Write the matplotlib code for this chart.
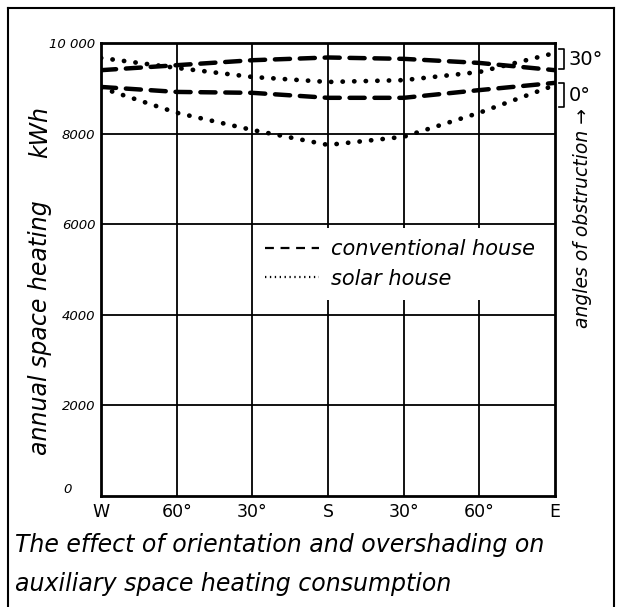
import matplotlib
matplotlib.use("Agg")
import matplotlib.pyplot as plt
from matplotlib.lines import Line2D

# orientation of the main glazing, degrees from south (west negative)
orientation = [-90, -60, -30, 0, 30, 60, 90]
orientation_labels = ["W", "60°", "30°", "S", "30°", "60°", "E"]

# annual auxiliary space heating, kWh
conventional_30 = [9400, 9510, 9620, 9680, 9650, 9560, 9400]
solar_30 = [9670, 9450, 9250, 9140, 9180, 9360, 9780]
conventional_0 = [9030, 8920, 8900, 8790, 8790, 8960, 9120]
solar_0 = [9010, 8460, 8080, 7750, 7930, 8460, 9070]

y_ticks = [0, 2000, 4000, 6000, 8000, 10000]
y_tick_labels = ["", "2000", "4000", "6000", "8000", "10 000"]

FONT = "DejaVu Sans"
W, H = 617, 607
fig = plt.figure(figsize=(W / 100, H / 100), dpi=100)

ax = fig.add_axes([101 / W, 1 - 496 / H, (555 - 101) / W, (496 - 43) / H])
ax.set_xlim(-90, 90)
ax.set_ylim(0, 10000)

# grid
for x in orientation[1:-1]:
    ax.axvline(x, color="black", lw=1.3, zorder=1)
for y in y_ticks[1:-1]:
    ax.axhline(y, color="black", lw=1.3, zorder=1)
for s in ax.spines.values():
    s.set_linewidth(2.0)

dash_style = dict(color="black", lw=3.2, linestyle=(0, (3.4, 2.2)),
                  dash_capstyle="round", zorder=3)
dot_style = dict(color="black", lw=3.4, linestyle=(0, (0.05, 2.4)),
                 dash_capstyle="round", zorder=3)

ax.plot(orientation, conventional_30, **dash_style)
ax.plot(orientation, conventional_0, **dash_style)
ax.plot(orientation, solar_30, **dot_style)
ax.plot(orientation, solar_0, **dot_style)

ax.set_xticks(orientation)
ax.set_xticklabels(orientation_labels, fontsize=12.5, family=FONT)
ax.set_yticks(y_ticks)
ax.set_yticklabels(y_tick_labels, fontsize=9.5, family=FONT, style="italic")
ax.tick_params(length=0, pad=4)
ax.tick_params(axis="x", pad=5)

# zero label sits up and to the left of the corner
ax.text(-0.065, 0.015, "0", transform=ax.transAxes, fontsize=9.5,
        family=FONT, style="italic", ha="right", va="center")

# legend
handles = [
    Line2D([], [], color="black", lw=1.6, linestyle=(0, (4, 3))),
    Line2D([], [], color="black", lw=1.6, linestyle=(0, (0.6, 1.6))),
]
leg = ax.legend(handles, ["conventional house", "solar house"],
                loc="upper left", bbox_to_anchor=(0.335, 0.592),
                frameon=True, framealpha=1, edgecolor="none",
                fancybox=False, borderpad=0.55, handlelength=2.6,
                handletextpad=0.6, labelspacing=0.45, borderaxespad=0,
                prop=dict(family=FONT, style="italic", size=15))
leg.get_frame().set_facecolor("white")
leg.set_zorder(5)

# obstruction-angle brackets on the right
def bracket(y0, y1, label):
    ax.plot([91.5, 93.5, 93.5, 91.5], [y0, y0, y1, y1], color="black",
            lw=1.2, clip_on=False)
    ax.text(95.5, (y0 + y1) / 2, label, fontsize=14, family=FONT,
            va="center", ha="left", clip_on=False)

bracket(9860, 9430, "30°")
bracket(9120, 8580, "0°")

fig.text(583 / W, 1 - 218 / H, "angles of obstruction →", rotation=90,
         fontsize=13.5, family=FONT, style="italic", ha="center", va="center")

fig.text(40 / W, 1 - 328 / H, "annual space heating", rotation=90,
         fontsize=17, family=FONT, style="italic", ha="center", va="center")
fig.text(40 / W, 1 - 132 / H, "kWh", rotation=90,
         fontsize=17, family=FONT, style="italic", ha="center", va="center")

fig.text(15 / W, 1 - 545 / H, "The effect of orientation and overshading on",
         fontsize=17, family=FONT, style="italic", ha="left", va="center")
fig.text(15 / W, 1 - 584 / H, "auxiliary space heating consumption",
         fontsize=17, family=FONT, style="italic", ha="left", va="center")

# outer frame
frame = dict(color="black", lw=1.5, transform=fig.transFigure)
fig.add_artist(Line2D([8 / W, 8 / W], [0, 1 - 8 / H], **frame))
fig.add_artist(Line2D([8 / W, 614 / W], [1 - 8 / H, 1 - 8 / H], **frame))
fig.add_artist(Line2D([614 / W, 614 / W], [0, 1 - 8 / H], **frame))

fig.savefig("out.png", dpi=100)
